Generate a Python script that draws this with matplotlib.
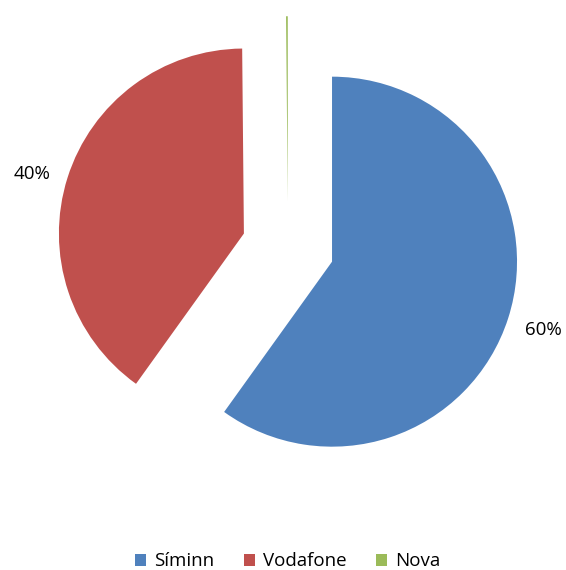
import matplotlib.pyplot as plt

labels = ['Síminn', 'Vodafone', 'Nova']
values = [60, 40, 0.15]
colors = ['#4F81BD', '#C0504D', '#9BBB59']
explode = [0.25, 0.25, 0.25]

plt.rcParams['font.family'] = ['Open Sans', 'DejaVu Sans']

fig = plt.figure(figsize=(5.66, 5.70), dpi=100)
ax = fig.add_axes([0, 0, 1, 1])


def pct_label(p):
    return '' if p < 1 else '%.0f%%' % p


wedges, texts, autotexts = ax.pie(
    values, colors=colors, explode=explode, startangle=90, counterclock=False,
    autopct=pct_label, pctdistance=1.2, radius=1,
    wedgeprops=dict(linewidth=0),
    textprops=dict(fontsize=13.5, color='#000000'))

# nudge the Vodafone label a little lower, as in the original
x, y = autotexts[1].get_position()
autotexts[1].set_position((x, y - 7 / 185))

# pixel-matched limits (1 unit = 185 px)
ax.set_xlim(-288 / 185, (566 - 288) / 185)
ax.set_ylim(-322.5 / 185, 247.5 / 185)
ax.set_aspect('equal', adjustable='box')
ax.axis('off')

fig.legend(wedges, labels, loc='lower center', bbox_to_anchor=(0.508, -0.03),
           ncol=3, frameon=False, fontsize=13.5, handlelength=0.6,
           handleheight=0.6, handletextpad=0.4, columnspacing=1.6)

fig.savefig('out.png', dpi=100, facecolor='white')
